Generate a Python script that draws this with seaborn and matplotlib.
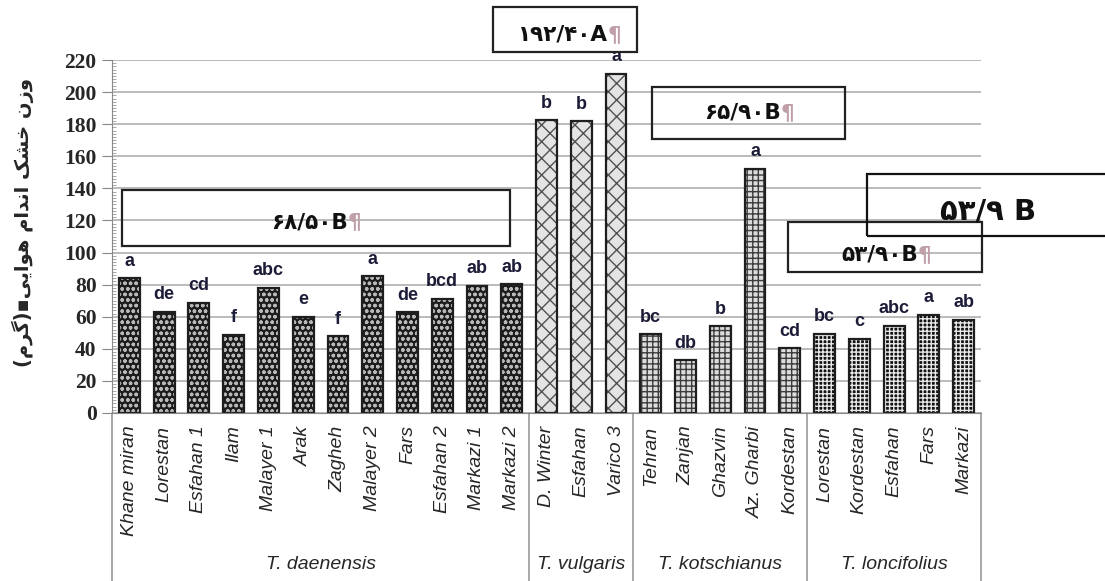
import matplotlib
matplotlib.use('Agg')
import matplotlib.pyplot as plt
from matplotlib.patches import Rectangle
from matplotlib.ticker import MultipleLocator
import numpy as np
import pandas as pd
import seaborn as sns

# species groups and their populations (one bar each)
species = ['T. daenensis', 'T. vulgaris', 'T. kotschianus', 'T. loncifolius']
species_size = [12, 3, 5, 5]
populations = ['Khane miran', 'Lorestan', 'Esfahan 1', 'Ilam', 'Malayer 1', 'Arak', 'Zagheh',
               'Malayer 2', 'Fars', 'Esfahan 2', 'Markazi 1', 'Markazi 2',
               'D. Winter', 'Esfahan', 'Varico 3',
               'Tehran', 'Zanjan', 'Ghazvin', 'Az. Gharbi', 'Kordestan',
               'Lorestan', 'Kordestan', 'Esfahan', 'Fars', 'Markazi']
dry_weight = [84.1, 63.0, 68.8, 48.9, 78.1, 59.9, 47.9, 85.3, 62.8, 71.3, 79.4, 80.2,
              182.5, 181.7, 211.5,
              49.1, 32.9, 54.1, 152.1, 40.2,
              49.5, 46.4, 54.3, 61.3, 58.2]
letters = ['a', 'de', 'cd', 'f', 'abc', 'e', 'f', 'a', 'de', 'bcd', 'ab', 'ab',
           'b', 'b', 'a',
           'bc', 'db', 'b', 'a', 'cd',
           'bc', 'c', 'abc', 'a', 'ab']
y_ticks = list(range(0, 221, 20))

# group means written in the boxes
box_texts = ['\u06f1\u06f9\u06f2/\u06f4\u06f0A', '\u06f6\u06f5/\u06f9\u06f0B',
             '\u06f6\u06f8/\u06f5\u06f0B', '\u06f5\u06f3/\u06f9\u06f0B']
big_box_text = '\u06f5\u06f3/\u06f9 B'

# y label "وزن خشک اندام هوایی (گرم)" in visual order with shaped forms
ylabel = ('(\ufee1\ufeae\ufb94)\u25aa'
          '\ufbfd\ufbfe\ufe8d\ufeee\ufeeb '
          '\ufee1\ufe8d\ufeaa\ufee7\ufe8d '
          '\ufb8f\ufeb8\ufea7 '
          '\ufee5\ufeaf\ufeed')

face_colors = {'T. daenensis': '#1c1c1c', 'T. vulgaris': '#e4e4e4',
               'T. kotschianus': '#dcdcdc', 'T. loncifolius': '#121212'}
hatch_colors = {'T. daenensis': '#b8b8b8', 'T. vulgaris': '#505050',
                'T. kotschianus': '#3c3c3c', 'T. loncifolius': '#e8e8e8'}
hatches = {'T. daenensis': 'ooo', 'T. vulgaris': 'xx',
           'T. kotschianus': '+++', 'T. loncifolius': '++++'}

group_col = []
for name, n in zip(species, species_size):
    group_col += [name] * n
df = pd.DataFrame({'pos': range(len(populations)), 'species': group_col, 'weight': dry_weight})

sns.set_style('white')
plt.rcParams['hatch.linewidth'] = 1.0

W, H = 1105, 581
fig = plt.figure(figsize=(W / 100, H / 100), dpi=100)
ax = fig.add_axes([112 / W, 1 - 413 / H, (981 - 112) / W, (413 - 60) / H])

sns.barplot(data=df, x='pos', y='weight', hue='species', palette=face_colors, dodge=False,
            width=0.6, legend=False, errorbar=None, linewidth=0, ax=ax)
for p in ax.patches:
    idx = int(round(p.get_x() + p.get_width() / 2))
    sp = group_col[idx]
    p.set_hatch(hatches[sp])
    p.set_edgecolor(hatch_colors[sp])
    p.set_linewidth(0)
# outlines
sns.barplot(data=df, x='pos', y='weight', fill=False, color='#1e1e1e', width=0.6,
            errorbar=None, linewidth=1.6, ax=ax)

for i, (v, lab) in enumerate(zip(dry_weight, letters)):
    ax.annotate(lab, xy=(i, v), xytext=(0, 9), textcoords='offset points', ha='center',
                va='baseline', fontsize=13, fontweight='bold', color='#1c1c38',
                family='Liberation Sans')

ax.set_ylim(0, 220)
ax.set_xlim(-0.5, len(populations) - 0.5)
ax.set_yticks(y_ticks)
ax.yaxis.set_minor_locator(MultipleLocator(2))
ax.yaxis.grid(True, color='#a8a8a8', lw=1.1)
ax.set_axisbelow(True)
ax.tick_params(axis='y', which='major', direction='out', length=7, color='#888888',
               labelsize=15.5, pad=4, left=True)
ax.tick_params(axis='y', which='minor', direction='in', length=3, color='#999999', width=0.6, left=True)
for t in ax.get_yticklabels():
    t.set_family('Liberation Serif')
    t.set_fontweight('bold')
ax.set_xticks(range(len(populations)))
ax.set_xticklabels(populations, rotation=90, fontsize=14, style='italic', family='Liberation Sans')
ax.tick_params(axis='x', length=0, pad=9)
ax.set_xlabel('')
ax.set_ylabel('')
for s in ['top', 'right']:
    ax.spines[s].set_visible(False)
ax.spines['left'].set_color('#888888')
ax.spines['bottom'].set_color('#888888')

# group separators and group names below the axis
bounds = np.concatenate([[0], np.cumsum(species_size)]) - 0.5
for b in bounds:
    ax.plot([b, b], [0, -0.48], transform=ax.get_xaxis_transform(), clip_on=False,
            color='#999999', lw=1.2)
for name, lo, hi in zip(species, bounds[:-1], bounds[1:]):
    ax.text((lo + hi) / 2, -0.43, name, transform=ax.get_xaxis_transform(), ha='center',
            va='center', fontsize=14, style='italic', family='Liberation Sans')

fig.text(23 / W, 1 - 222 / H, ylabel, rotation=90, ha='center', va='center', fontsize=14,
         fontweight='bold', family='DejaVu Sans')

# boxes with group means: (x0, y0, x1, y1, text centre x, text centre y)
box_layout = [(493, 7, 637, 52, 568, 35), (652, 87, 845, 139, 748, 113),
              (122, 190, 510, 246, 315, 222), (788, 222, 982, 272, 885, 255)]
for (x0, y0, x1, y1, tx, ty), txt in zip(box_layout, box_texts):
    fig.add_artist(Rectangle((x0 / W, 1 - y1 / H), (x1 - x0) / W, (y1 - y0) / H,
                             transform=fig.transFigure, fill=False, ec='#222222', lw=1.6))
    t = fig.text(tx / W - 0.005, 1 - ty / H, txt, ha='center', va='center', fontsize=15.5,
                 fontweight='bold', family='DejaVu Sans', color='#111111')
    ax.annotate('\u00b6', xy=(1, 0), xycoords=t, ha='left', va='bottom', fontsize=15.5,
                fontweight='bold', color='#c0a0a8', family='DejaVu Sans', annotation_clip=False)
fig.add_artist(Rectangle((867 / W, 1 - 236 / H), 260 / W, 62 / H, transform=fig.transFigure,
                         fill=False, ec='#111111', lw=1.6))
fig.text(988 / W, 1 - 212 / H, big_box_text, ha='center', va='center', fontsize=21,
         fontweight='bold', family='DejaVu Sans', color='#111111')

fig.savefig('out.png', dpi=100)
